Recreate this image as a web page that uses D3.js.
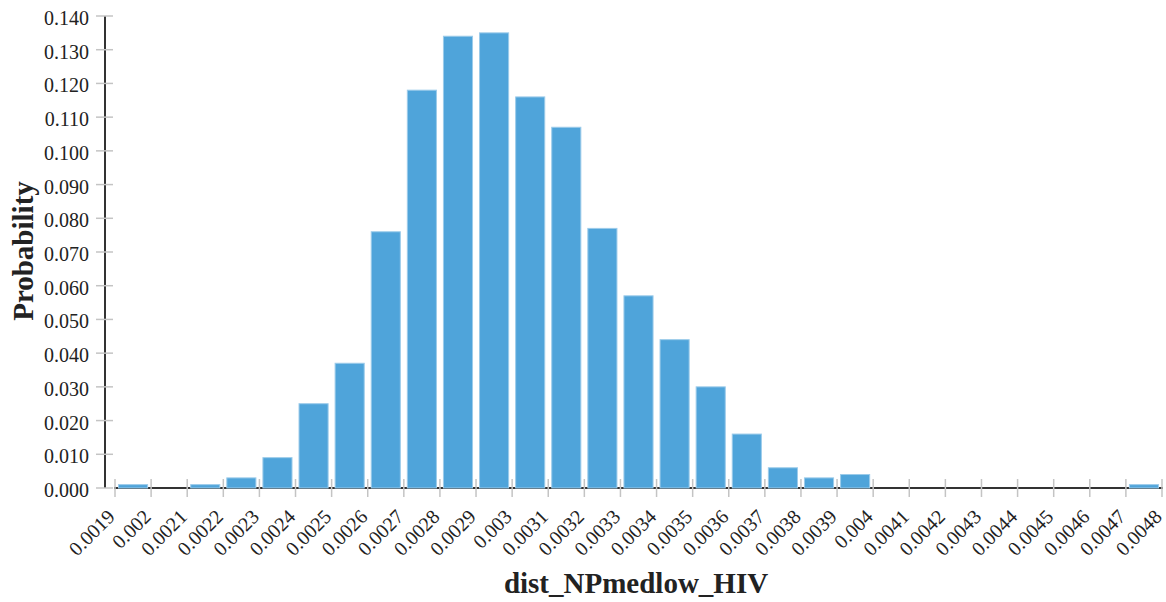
<!DOCTYPE html>
<html>
<head>
<meta charset="utf-8">
<script src="https://cdn.jsdelivr.net/npm/d3@7"></script>
<style>
  html, body { margin: 0; padding: 0; background: #fff; }
  svg { display: block; }
</style>
</head>
<body>
<svg id="chart" width="1166" height="602"></svg>
<script>
// Bin edges along the x axis (tick labels), one bar per interval between edges
const binEdges = ["0.0019","0.002","0.0021","0.0022","0.0023","0.0024","0.0025","0.0026",
  "0.0027","0.0028","0.0029","0.003","0.0031","0.0032","0.0033","0.0034","0.0035","0.0036",
  "0.0037","0.0038","0.0039","0.004","0.0041","0.0042","0.0043","0.0044","0.0045","0.0046",
  "0.0047","0.0048"];

// Probability of each bin (starting at the left edge listed above)
const probability = [0.001, 0.000, 0.001, 0.003, 0.009, 0.025, 0.037, 0.076, 0.118, 0.134,
  0.135, 0.116, 0.107, 0.077, 0.057, 0.044, 0.030, 0.016, 0.006, 0.003, 0.004,
  0.000, 0.000, 0.000, 0.000, 0.000, 0.000, 0.000, 0.001];

const yTicks = d3.range(0, 15).map(i => i / 100);

const xTitle = "dist_NPmedlow_HIV";
const yTitle = "Probability";

const svg = d3.select("#chart");
const serif = "'Liberation Serif', 'Times New Roman', serif";

const x = d3.scalePoint().domain(binEdges).range([115, 1162]);
const y = d3.scaleLinear().domain([0, 0.14]).range([488, 16]);

const bins = probability.map((p, i) => ({ lo: binEdges[i], hi: binEdges[i + 1], p }));

// Axis lines (drawn beneath the bars)
svg.append("line")
  .attr("x1", 105).attr("x2", 105)
  .attr("y1", y(0.14)).attr("y2", y(0))
  .attr("stroke", "#333").attr("stroke-width", 2);

svg.append("line")
  .attr("x1", x.range()[0] - 1).attr("x2", x.range()[1] + 1)
  .attr("y1", y(0)).attr("y2", y(0))
  .attr("stroke", "#333").attr("stroke-width", 2);

// Y ticks and labels
const yAxis = svg.append("g");
yAxis.selectAll("line").data(yTicks).join("line")
  .attr("x1", 96).attr("x2", 113)
  .attr("y1", d => y(d)).attr("y2", d => y(d))
  .attr("stroke", "#c4c4c4").attr("stroke-width", 1.5);
yAxis.selectAll("text").data(yTicks).join("text")
  .attr("x", 89).attr("y", d => y(d))
  .attr("dy", "0.45em")
  .attr("text-anchor", "end")
  .attr("font-family", serif).attr("font-size", 20).attr("fill", "#222")
  .text(d3.format(".3f"));

// Bars
const pad = 3.5;
svg.append("g").selectAll("rect")
  .data(bins.filter(b => b.p > 0)).join("rect")
  .attr("x", d => x(d.lo) + pad)
  .attr("width", d => x(d.hi) - x(d.lo) - 2 * pad)
  .attr("y", d => y(d.p))
  .attr("height", d => y(0) - y(d.p))
  .attr("fill", "#4fa4da")
  .attr("stroke", "#9ccbea").attr("stroke-width", 1);

// X ticks and rotated labels
const xAxis = svg.append("g");
xAxis.selectAll("line").data(binEdges).join("line")
  .attr("x1", d => x(d)).attr("x2", d => x(d))
  .attr("y1", y(0) - 9).attr("y2", y(0) + 9)
  .attr("stroke", "#c4c4c4").attr("stroke-width", 1.5);
xAxis.selectAll("text").data(binEdges).join("text")
  .attr("transform", d => `translate(${x(d) + 1},${y(0) + 30}) rotate(-45)`)
  .attr("text-anchor", "end")
  .attr("font-family", serif).attr("font-size", 20).attr("fill", "#222")
  .text(d => d);

// Axis titles
svg.append("text")
  .attr("x", 636).attr("y", 593)
  .attr("text-anchor", "middle")
  .attr("font-family", serif).attr("font-size", 29).attr("font-weight", "bold").attr("fill", "#222")
  .text(xTitle);

svg.append("text")
  .attr("transform", "translate(33,251) rotate(-90)")
  .attr("text-anchor", "middle")
  .attr("font-family", serif).attr("font-size", 29).attr("font-weight", "bold").attr("fill", "#222")
  .text(yTitle);
</script>
</body>
</html>
